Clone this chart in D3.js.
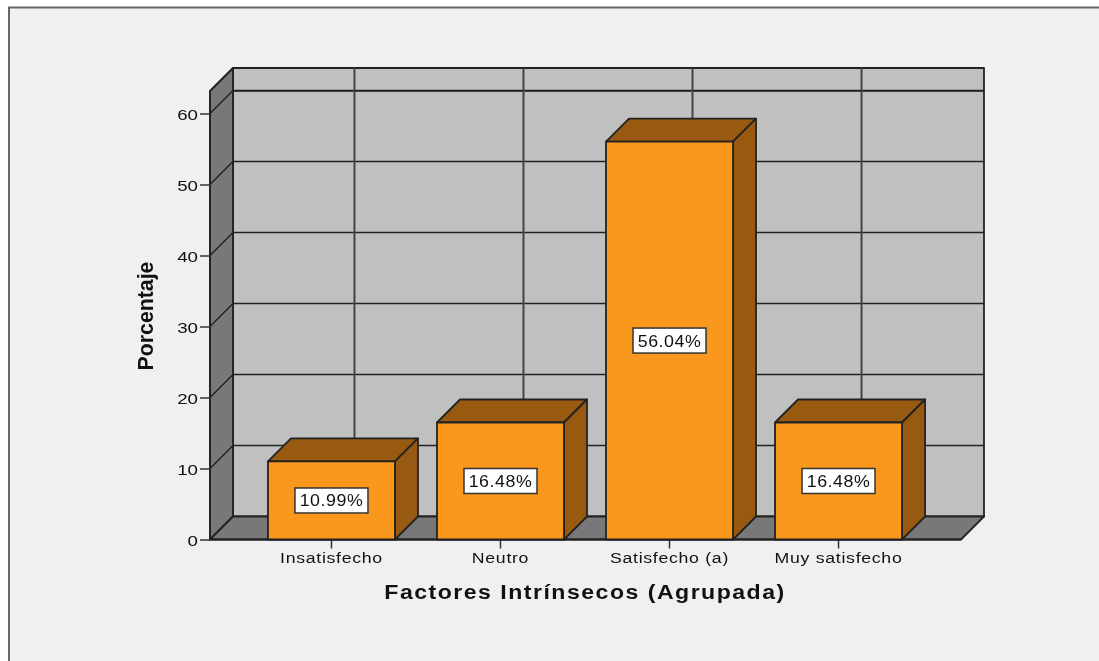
<!DOCTYPE html>
<html><head><meta charset="utf-8">
<script src="https://cdnjs.cloudflare.com/ajax/libs/d3/7.8.5/d3.min.js"></script>
<style>html,body{margin:0;padding:0;background:#fff;overflow:hidden}svg{display:block;filter:blur(0.35px)}
text{font-family:"Liberation Sans",Arial,sans-serif;fill:#111}</style></head><body>
<script>
const categories = ["Insatisfecho","Neutro","Satisfecho (a)","Muy satisfecho"];
const values = [10.99,16.48,56.04,16.48];
const labels = ["10.99%","16.48%","56.04%","16.48%"];
const yTicks = [0,10,20,30,40,50,60];
const xTitle = "Factores Intrínsecos (Agrupada)";
const yTitle = "Porcentaje";
const W=1099,H=661,depth=23,ink="#222";
const svg=d3.select("body").append("svg").attr("width",W).attr("height",H);
svg.append("rect").attr("width",W).attr("height",H).attr("fill","#fff");
svg.append("rect").attr("x",9).attr("y",7.5).attr("width",W).attr("height",H).attr("fill","#f0f0f0").attr("stroke","#666").attr("stroke-width",2);
const y=d3.scaleLinear().domain([0,60]).range([539.5,113.5]);
const x=d3.scaleBand().domain(categories).range([247,923]).paddingInner(0.2485).paddingOuter(0.124);
const yMax=y.invert(91), L=210,R=961,T=y(yMax),B=y(0);
const poly=(pts,fill,sw=1.8)=>svg.append("polygon").attr("points",pts.map(p=>p.join(",")).join(" ")).attr("fill",fill).attr("stroke",ink).attr("stroke-width",sw).attr("stroke-linejoin","round");
const line=(a,b,c,d,col=ink,sw=1.5)=>svg.append("line").attr("x1",a).attr("y1",b).attr("x2",c).attr("y2",d).attr("stroke",col).attr("stroke-width",sw);
// walls
poly([[L+depth,T-depth],[R+depth,T-depth],[R+depth,B-depth],[L+depth,B-depth]],"#c0c0c0");
poly([[L,T],[L+depth,T-depth],[L+depth,B-depth],[L,B]],"#787878");
poly([[L,B],[L+depth,B-depth],[R+depth,B-depth],[R,B]],"#787878");
// grid
yTicks.slice(1).forEach(t=>{
  line(L+depth,y(t)-depth,R+depth,y(t)-depth);
  line(L,y(t),L+depth,y(t)-depth);
});
line(L+depth,T,R+depth,T);
line(L,T,L+depth,T-depth);
categories.forEach(c=>line(x(c)+x.bandwidth()/2+depth,T-depth,x(c)+x.bandwidth()/2+depth,B-depth,"#444",2));
// axes
const gy=svg.append("g").attr("transform",`translate(${L},0)`).call(d3.axisLeft(y).tickValues(yTicks).tickSize(10).tickPadding(2).tickFormat(d3.format("d")));
gy.select(".domain").attr("stroke",ink).attr("stroke-width",1.8).attr("d",`M0,${T}V${B}`);
gy.selectAll("line").attr("stroke","#333").attr("stroke-width",1.5);
gy.selectAll("text").attr("font-size",15).attr("fill","#111").style("font-family",'"Liberation Sans"')
  .attr("transform",function(){const a=+d3.select(this).attr("x");return `translate(${a},1.5) scale(1.25,1) translate(${-a},0)`;});
const gx=svg.append("g").attr("transform",`translate(0,${B})`).call(d3.axisBottom(x).tickSize(9).tickPadding(4));
gx.select(".domain").remove();
gx.selectAll("line").attr("stroke","#333").attr("stroke-width",1.5);
gx.selectAll("text").attr("font-size",15).attr("fill","#222").attr("letter-spacing",0.6).style("font-family",'"Liberation Sans"').attr("transform","scale(1.18,1)");
line(L,B,R,B,ink,1.8);
// bars
categories.forEach((c,i)=>{
  const x0=x(c),x1=x0+x.bandwidth(),t=y(values[i]);
  poly([[x0,t],[x0+depth,t-depth],[x1+depth,t-depth],[x1,t]],"#985a11");
  poly([[x1,t],[x1+depth,t-depth],[x1+depth,B-depth],[x1,B]],"#985a11");
  poly([[x0,t],[x1,t],[x1,B],[x0,B]],"#fa981e");
  const cy=(t+B)/2, cx=(x0+x1)/2;
  svg.append("rect").attr("x",cx-36.5).attr("y",cy-12.5).attr("width",73).attr("height",25).attr("fill","#fff").attr("stroke","#333").attr("stroke-width",1.5);
  svg.append("text").attr("transform",`translate(${cx},${cy+6}) scale(1.08,1)`).attr("text-anchor","middle").attr("font-size",16.5).attr("letter-spacing",0.5).text(labels[i]);
});
svg.append("text").attr("transform","translate(585,599) scale(1.1,1)").attr("text-anchor","middle").attr("font-size",21).attr("font-weight","bold").attr("letter-spacing",1.35).text(xTitle);
svg.append("text").attr("transform","translate(153,316) rotate(-90) scale(1.12,1.2)").attr("text-anchor","middle").attr("font-size",19).attr("font-weight","bold").text(yTitle);
</script></body></html>
